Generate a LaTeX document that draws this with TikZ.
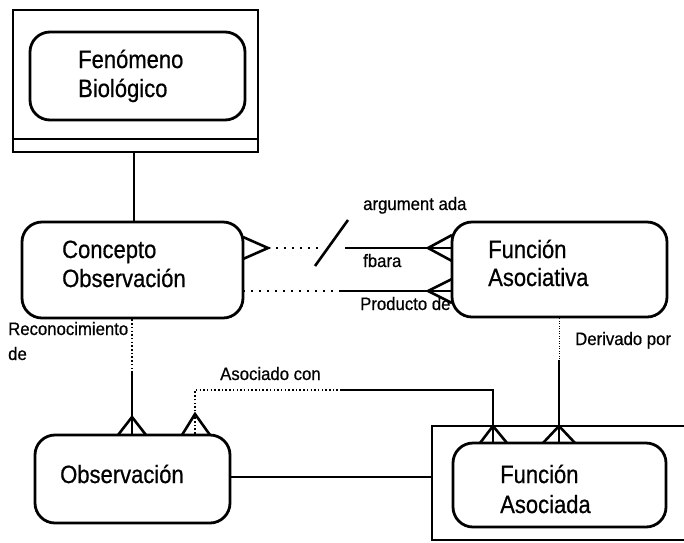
\documentclass[tikz,border=0pt]{standalone}
\usepackage{fontspec}
\newfontfamily\boxfont{Liberation Sans}[FakeStretch=0.88,FakeBold=0.6]
\newfontfamily\lblfont{Liberation Sans}[FakeStretch=0.93,FakeBold=0.6]
\begin{document}
\begin{tikzpicture}[x=1pt,y=-1pt,
  entity/.style={draw, line width=2.8pt, rounded corners=20pt, inner sep=0pt},
  frame/.style={draw, line width=2.4pt},
  link/.style={line width=2.6pt},
  dotlink/.style={line width=2.2pt, dash pattern=on 2pt off 6pt},
  finedots/.style={line width=1.8pt, dash pattern=on 1.5pt off 2.2pt},
  thindots/.style={line width=1pt, dash pattern=on 1pt off 1.5pt},
  boxtxt/.style={inner sep=0pt, anchor=base west, font=\boxfont\fontsize{25}{28}\selectfont},
  lbl/.style={inner sep=0pt, anchor=base west, font=\lblfont\fontsize{18}{20}\selectfont}]
\useasboundingbox (0,0) rectangle (684,542);

% --- Fenómeno Biológico (framed, double bottom rule)
\draw[frame] (13,10) rectangle (258,152);
\draw[frame] (13,139) -- (258,139);
\node[entity, minimum width=215pt, minimum height=88pt] (fen) at (137.5,76) {};
\node[boxtxt] (fen1) at (78,68) {Fenómeno};
\node[boxtxt] (fen2) at (78,97) {Biológico};
\coordinate (fenout) at (134,152);

% --- Concepto Observación
\node[entity, minimum width=221pt, minimum height=96pt] (co) at (132.5,270) {};
\node[boxtxt] (co1) at (62,258) {Concepto};
\node[boxtxt] (co2) at (62,287) {Observación};

% --- Función Asociativa
\node[entity, minimum width=215pt, minimum height=95pt] (fa) at (559.5,269.5) {};
\node[boxtxt] (fa1) at (488,258) {Función};
\node[boxtxt] (fa2) at (488,286) {Asociativa};

% --- Observación
\node[entity, minimum width=195pt, minimum height=88pt] (ob) at (132.5,479) {};
\node[boxtxt] (ob1) at (60,483) {Observación};

% --- Función Asociada (frame open on the right)
\draw[frame] (684,426) -- (432,426) -- (432,540) -- (684,540);
\coordinate (fadframe) at (432,477);
\node[entity, minimum width=213pt, minimum height=84pt] (fad) at (559.5,485) {};
\node[boxtxt] (fad1) at (500,483) {Función};
\node[boxtxt] (fad2) at (500,513) {Asociada};

% --- Fenómeno -- Concepto
\draw[link] (fenout) -- (co.north -| fenout);

% --- Concepto -> Función Asociativa (argumentada para)
\coordinate (a1) at (268,248);
\coordinate (a2) at (322,248);
\coordinate (a3) at (345,248);
\coordinate (a4) at (428,248);
\draw[link] (243,237) -- (a1) -- (243,259);
\draw[dotlink] (a1) -- (a2);
\draw[link] (315,266) -- (348,220);
\draw[link] (a3) -- (a4);
\draw[link] (452,235) -- (a4) -- (452,261);
\draw[link] (a4) -- (a4 -| fa.west);

% --- Concepto -> Función Asociativa (producto de)
\coordinate (b0) at (243,291);
\coordinate (b1) at (340,291);
\coordinate (b2) at (428,291);
\draw[dotlink] (b0) -- (b1);
\draw[link] (b1) -- (b2);
\draw[link] (452,279) -- (b2) -- (452,303);
\draw[link] (b2) -- (b2 -| fa.west);

% --- Concepto -> Observación (reconocimiento de)
\coordinate (r1) at (132,372);
\coordinate (r2) at (132,417);
\draw[finedots] (co.south -| r1) -- (r1);
\draw[link] (r1) -- (ob.north -| r1);
\draw[link] (118,435) -- (r2) -- (146,435);

% --- Observación -> Función Asociada (asociado con)
\coordinate (s1) at (195,390);
\coordinate (s2) at (340,390);
\coordinate (s3) at (493,390);
\coordinate (s4) at (493,426);
\coordinate (s5) at (195,414);
\draw[finedots] (ob.north -| s1) -- (s1) -- (s2);
\draw[link] (s2) -- (s3) -- (s4);
\draw[link] (182,435) -- (s5) -- (210,435);
\draw[link] (s4) -- (fad.north -| s4);
\draw[link] (480,443) -- (s4) -- (507,443);

% --- Función Asociativa -> Función Asociada (derivado por)
\coordinate (d1) at (559,360);
\coordinate (d2) at (559,426);
\draw[thindots] (fa.south -| d1) -- (d1);
\draw[link] (d1) -- (d2) -- (fad.north -| d2);
\draw[link] (543,443) -- (d2) -- (575,443);

% --- Observación -- Función Asociada frame
\draw[link] (ob.east |- fadframe) -- (fadframe);

% --- relationship labels
\node[lbl] (l1) at (363,210) {argument ada};
\node[lbl] (l2) at (363,267) {fbara};
\node[lbl] (l3) at (360,310) {Producto de};
\node[lbl] (l4) at (8,335) {Reconocimiento};
\node[lbl] (l5) at (8,360) {de};
\node[lbl] (l6) at (220,380) {Asociado con};
\node[lbl] (l7) at (575,345) {Derivado por};
\end{tikzpicture}
\end{document}
